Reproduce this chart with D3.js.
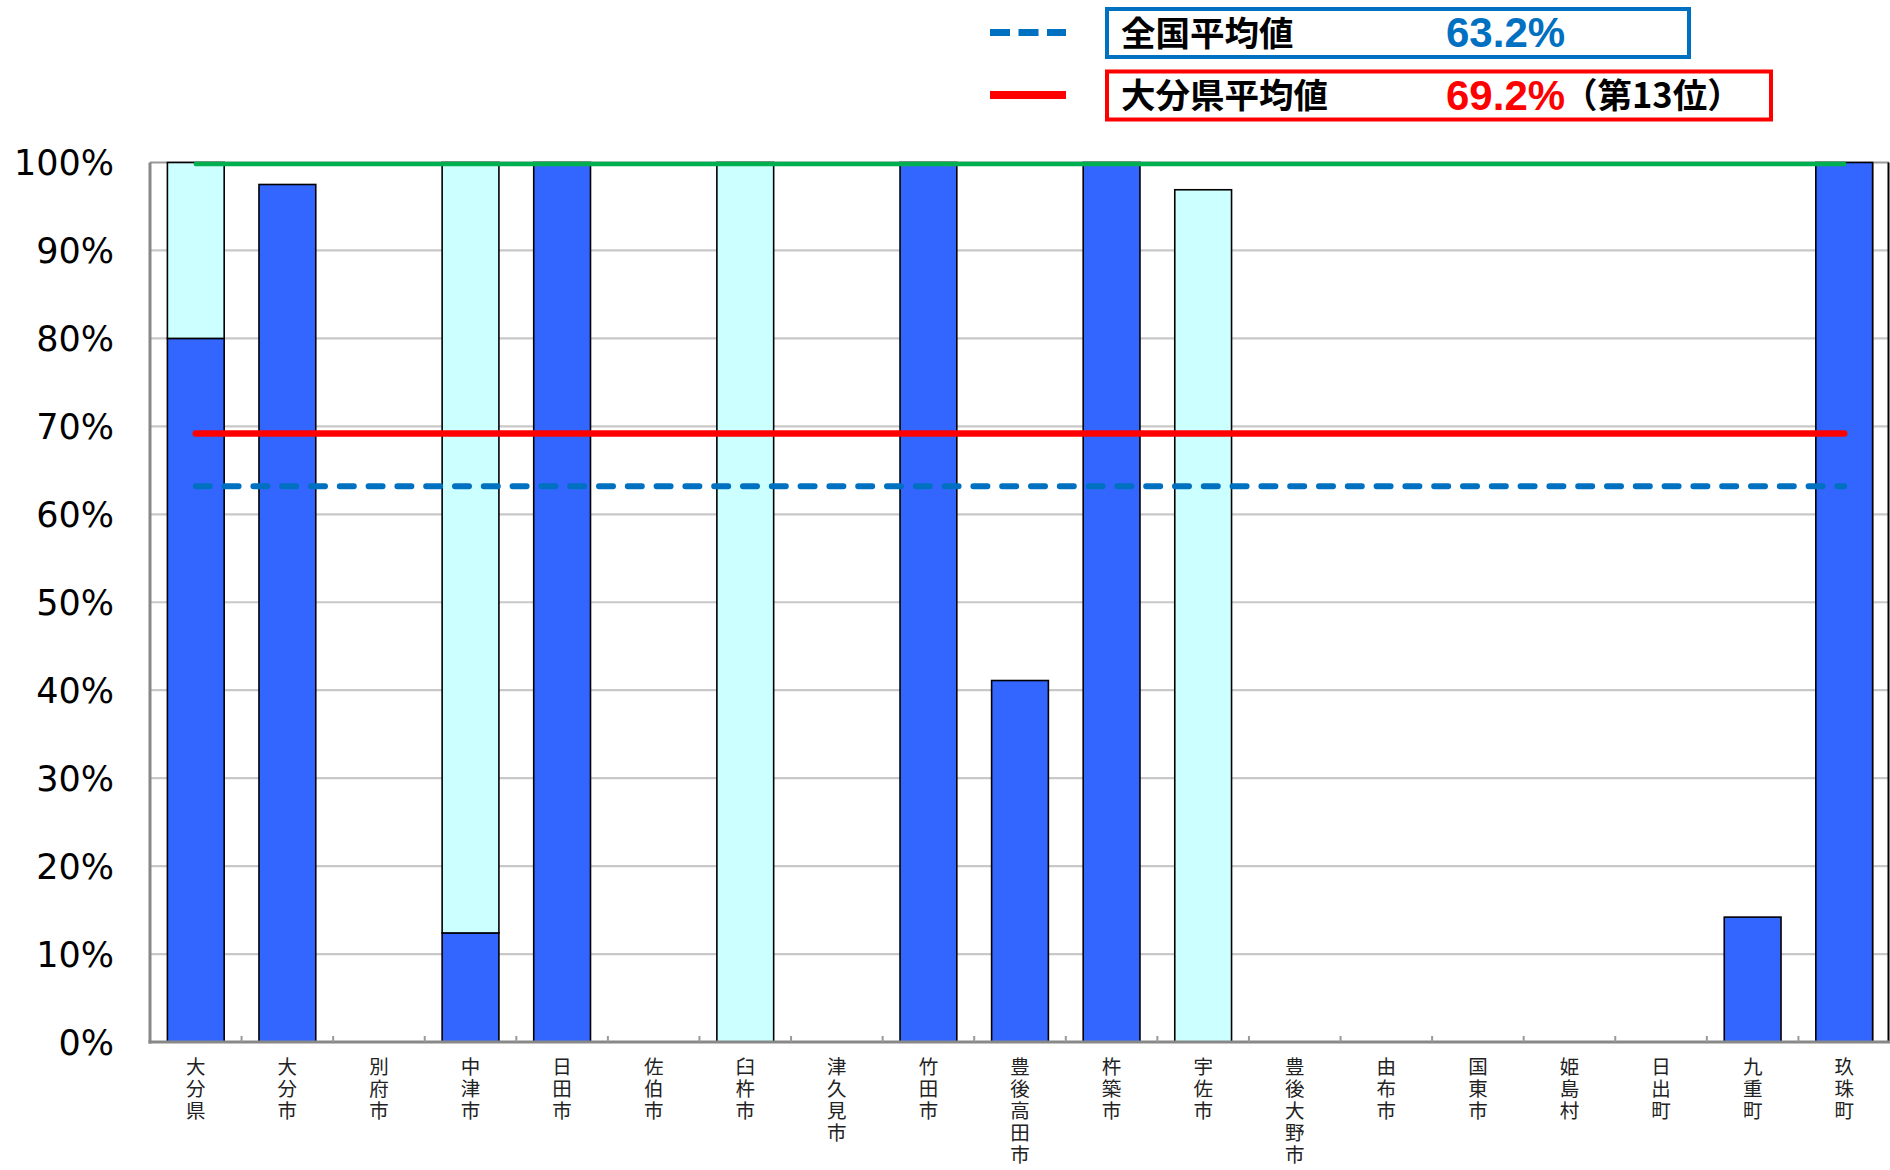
<!DOCTYPE html>
<html><head><meta charset="utf-8">
<script src="https://cdn.jsdelivr.net/npm/d3@7"></script>
<style>html,body{margin:0;padding:0;background:#fff;}svg{display:block;}</style>
</head><body>
<svg id="chart" width="1890" height="1170"></svg>
<script>
const categories = ["大分県","大分市","別府市","中津市","日田市","佐伯市","臼杵市","津久見市","竹田市","豊後高田市","杵築市","宇佐市","豊後大野市","由布市","国東市","姫島村","日出町","九重町","玖珠町"];
const blueValues = [80, 97.5, 0, 12.4, 100, 0, 0, 0, 100, 41.1, 100, 0, 0, 0, 0, 0, 0, 14.2, 100];
const cyanValues = [20, 0, 0, 87.6, 0, 0, 100, 0, 0, 0, 0, 96.9, 0, 0, 0, 0, 0, 0, 0];
const yTicks = [0,10,20,30,40,50,60,70,80,90,100];
const nationalAvg = 63.2;
const prefAvg = 69.2;
const targetLine = 100;
const legendNational = {label:"全国平均値", value:"63.2%"};
const legendPref = {label:"大分県平均値", value:"69.2%", rank:"（第13位）"};

(function(){
const svg = d3.select("#chart");
const pL = 150, pR = 1890, pT = 162.5, pB = 1042;
const x = d3.scaleBand().domain(categories).range([pL, pR]).paddingInner(0.38).paddingOuter(0.19);
const y = d3.scaleLinear().domain([0,100]).range([pB, pT]);

// gridlines
svg.append("g").selectAll("line").data(yTicks.filter(d=>d>0)).join("line")
  .attr("x1", pL).attr("x2", pR - 1)
  .attr("y1", d=>y(d)).attr("y2", d=>y(d))
  .attr("stroke", d=> d===100 ? "#999" : "#c8c8c8").attr("stroke-width", 2.2);

// extra right border box
svg.append("line").attr("x1",1873).attr("x2",1873).attr("y1",pT).attr("y2",pB).attr("stroke","#999").attr("stroke-width",1.5);
svg.append("line").attr("x1",1888.5).attr("x2",1888.5).attr("y1",pT).attr("y2",pB).attr("stroke","#000").attr("stroke-width",2);

// bars
const bars = svg.append("g");
categories.forEach((c,i)=>{
  if (blueValues[i] > 0) {
    bars.append("rect").attr("x", x(c)).attr("width", x.bandwidth())
      .attr("y", y(blueValues[i])).attr("height", y(0)-y(blueValues[i]))
      .attr("fill", "#3366ff").attr("stroke", "#000").attr("stroke-width", 1.6);
  }
  if (cyanValues[i] > 0) {
    const b = blueValues[i], t = blueValues[i] + cyanValues[i];
    bars.append("rect").attr("x", x(c)).attr("width", x.bandwidth())
      .attr("y", y(t)).attr("height", y(b)-y(t))
      .attr("fill", "#ccffff").attr("stroke", "#000").attr("stroke-width", 1.6);
  }
});

// axes
const ax = svg.append("g");
ax.append("line").attr("x1", pL).attr("x2", pL).attr("y1", pT).attr("y2", pB+1.5).attr("stroke","#888").attr("stroke-width",3);
ax.append("line").attr("x1", pL-1.5).attr("x2", pR).attr("y1", pB).attr("y2", pB).attr("stroke","#888").attr("stroke-width",3);
const step = x.step();
ax.selectAll("line.tick").data(d3.range(1, categories.length)).join("line").attr("class","tick")
  .attr("x1", i=> pL + i*step).attr("x2", i=> pL + i*step)
  .attr("y1", pB).attr("y2", pB-6).attr("stroke","#999").attr("stroke-width",2);

// y labels
svg.append("g").selectAll("text").data(yTicks).join("text")
  .attr("x", 114).attr("y", d=>y(d)).attr("dy","0.36em")
  .attr("text-anchor","end").attr("font-family","'DejaVu Sans', Verdana, sans-serif").attr("font-size",35)
  .attr("fill","#000").text(d=>d+"%");

// x labels (vertical text)
svg.append("g").selectAll("text").data(categories).join("text")
  .attr("x", c=> x(c)+x.bandwidth()/2).attr("y", 1057)
  .attr("font-family","'Noto Sans CJK JP', sans-serif").attr("font-size",19.5).attr("fill","#222")
  .style("writing-mode","vertical-rl").style("text-orientation","upright").style("letter-spacing","2.4px")
  .text(c=>c);

// reference lines
const x1 = x(categories[0]) + x.bandwidth()/2, x2 = x(categories[categories.length-1]) + x.bandwidth()/2;
svg.append("line").attr("x1",x1).attr("x2",x2).attr("y1",y(targetLine)+1.5).attr("y2",y(targetLine)+1.5)
  .attr("stroke","#00b050").attr("stroke-width",4.5).attr("stroke-linecap","round");
svg.append("line").attr("x1",x1).attr("x2",x2).attr("y1",y(prefAvg)).attr("y2",y(prefAvg))
  .attr("stroke","#ff0000").attr("stroke-width",6.5).attr("stroke-linecap","round");
svg.append("line").attr("x1",x1).attr("x2",x2).attr("y1",y(nationalAvg)).attr("y2",y(nationalAvg))
  .attr("stroke","#0070c0").attr("stroke-width",6).attr("stroke-linecap","round").attr("stroke-dasharray","14,14.8");

// legend
const lg = svg.append("g");
lg.append("line").attr("x1",990).attr("x2",1066).attr("y1",32.5).attr("y2",32.5)
  .attr("stroke","#0070c0").attr("stroke-width",7).attr("stroke-dasharray","20,8.5");
lg.append("line").attr("x1",990).attr("x2",1066).attr("y1",95).attr("y2",95)
  .attr("stroke","#ff0000").attr("stroke-width",8);
lg.append("rect").attr("x",1107).attr("y",9).attr("width",582).attr("height",48)
  .attr("fill","#fff").attr("stroke","#0070c0").attr("stroke-width",4);
lg.append("rect").attr("x",1107).attr("y",71.5).attr("width",664).attr("height",48)
  .attr("fill","#fff").attr("stroke","#ff0000").attr("stroke-width",4);
const cjk = "'Noto Sans CJK JP', sans-serif";
lg.append("text").attr("x",1121).attr("y",46).attr("font-family",cjk).attr("font-weight","bold").attr("font-size",34.5).text(legendNational.label);
lg.append("text").attr("x",1446).attr("y",47).attr("font-family","'Liberation Sans', Arial, sans-serif").attr("font-weight","bold").attr("font-size",42).attr("fill","#0070c0").text(legendNational.value);
lg.append("text").attr("x",1121).attr("y",108).attr("font-family",cjk).attr("font-weight","bold").attr("font-size",34.5).text(legendPref.label);
lg.append("text").attr("x",1446).attr("y",110).attr("font-family","'Liberation Sans', Arial, sans-serif").attr("font-weight","bold").attr("font-size",42).attr("fill","#ff0000").text(legendPref.value);
lg.append("text").attr("x",1563).attr("y",108).attr("font-family",cjk).attr("font-weight","bold").attr("font-size",34.5).text(legendPref.rank);
})();
</script>
</body></html>
